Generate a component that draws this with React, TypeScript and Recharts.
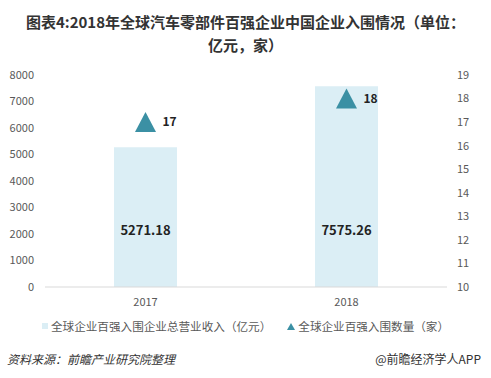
import React from "react";
import {
  ComposedChart,
  Bar,
  Line,
  XAxis,
  YAxis,
  LabelList,
} from "recharts";

// 年份
const years = ["2017", "2018"];
// 全球企业百强入围企业总营业收入（亿元）
const revenue = [5271.18, 7575.26];
// 全球企业百强入围数量（家）
const counts = [17, 18];
// 轴刻度
const leftTicks = [0, 1000, 2000, 3000, 4000, 5000, 6000, 7000, 8000];
const rightTicks = [10, 11, 12, 13, 14, 15, 16, 17, 18, 19];

const data = years.map((y, i) => ({ year: y, revenue: revenue[i], count: counts[i] }));

const FONT = '"Microsoft YaHei", "Noto Sans CJK SC", "Noto Sans", sans-serif';
const BAR_COLOR = "#dbeef5";
const TRI_COLOR = "#3b90a4";

// 三角形のマーカー
const Triangle = (props: any) => {
  const { cx, cy } = props;
  if (cx == null || cy == null) return null;
  const w = 21;
  const h = 20;
  return (
    <path
      d={`M${cx},${cy - h / 2} L${cx + w / 2},${cy + h / 2} L${cx - w / 2},${cy + h / 2} Z`}
      fill={TRI_COLOR}
    />
  );
};

export default function App() {
  return (
    <div
      style={{
        position: "absolute",
        left: 0,
        top: 0,
        width: 491,
        height: 378,
        background: "#fff",
        fontFamily: FONT,
      }}
    >
      {/* タイトル */}
      <div
        style={{
          position: "absolute",
          top: 10,
          left: 0,
          width: 491,
          textAlign: "center",
          fontSize: 15,
          fontWeight: "bold",
          color: "#333",
          lineHeight: "23px",
        }}
      >
        图表4:2018年全球汽车零部件百强企业中国企业入围情况（单位：
        <br />
        亿元，家）
      </div>

      <ComposedChart
        width={491}
        height={378}
        data={data}
        margin={{ top: 75, right: 0, left: 0, bottom: 61 }}
        style={{ position: "absolute", left: 0, top: 0 }}
      >
        <XAxis
          dataKey="year"
          height={30}
          axisLine={{ stroke: "#d9d9d9" }}
          tickLine={false}
          tick={{ fill: "#595959", fontSize: 11, fontFamily: FONT }}
          tickMargin={5}
        />
        <YAxis
          yAxisId="left"
          width={45}
          domain={[0, 8000]}
          ticks={leftTicks}
          axisLine={false}
          tickLine={false}
          tickSize={0}
          tickMargin={11}
          tick={{ fill: "#595959", fontSize: 11, fontFamily: FONT }}
        />
        <YAxis
          yAxisId="right"
          orientation="right"
          width={44}
          domain={[10, 19]}
          ticks={rightTicks}
          axisLine={false}
          tickLine={false}
          tickSize={0}
          tickMargin={10}
          tick={{ fill: "#595959", fontSize: 11, fontFamily: FONT }}
        />
        <Bar
          yAxisId="left"
          dataKey="revenue"
          barSize={63}
          fill={BAR_COLOR}
          isAnimationActive={false}
        >
          <LabelList
            dataKey="revenue"
            position="insideBottom"
            offset={52}
            fill="#222"
            fontSize={13}
            fontWeight="bold"
            fontFamily={FONT}
            formatter={(v: any) => Number(v).toFixed(2)}
          />
        </Bar>
        <Line
          yAxisId="right"
          dataKey="count"
          stroke="none"
          dot={<Triangle />}
          activeDot={false}
          isAnimationActive={false}
        >
          <LabelList
            dataKey="count"
            position="right"
            offset={17}
            fill="#222"
            fontSize={12}
            fontWeight="bold"
            fontFamily={FONT}
          />
        </Line>
      </ComposedChart>

      {/* 凡例 */}
      <div
        style={{
          position: "absolute",
          top: 318,
          left: 0,
          width: 491,
          display: "flex",
          justifyContent: "center",
          alignItems: "center",
          fontSize: 11.6,
          color: "#595959",
          whiteSpace: "nowrap",
        }}
      >
        <span style={{ display: "inline-block", width: 6, height: 6, background: BAR_COLOR, marginRight: 3 }} />
        <span>全球企业百强入围企业总营业收入（亿元）</span>
        <svg width={8} height={7} style={{ marginLeft: 16, marginRight: 3 }}>
          <path d="M4,0 L8,7 L0,7 Z" fill={TRI_COLOR} />
        </svg>
        <span>全球企业百强入围数量（家）</span>
      </div>

      {/* 出典 */}
      <div
        style={{
          position: "absolute",
          top: 350,
          left: 7,
          fontSize: 12,
          fontStyle: "italic",
          color: "#333",
        }}
      >
        资料来源：前瞻产业研究院整理
      </div>
      <div
        style={{
          position: "absolute",
          top: 350,
          right: 10,
          fontSize: 12,
          color: "#333",
        }}
      >
        @前瞻经济学人APP
      </div>
    </div>
  );
}
